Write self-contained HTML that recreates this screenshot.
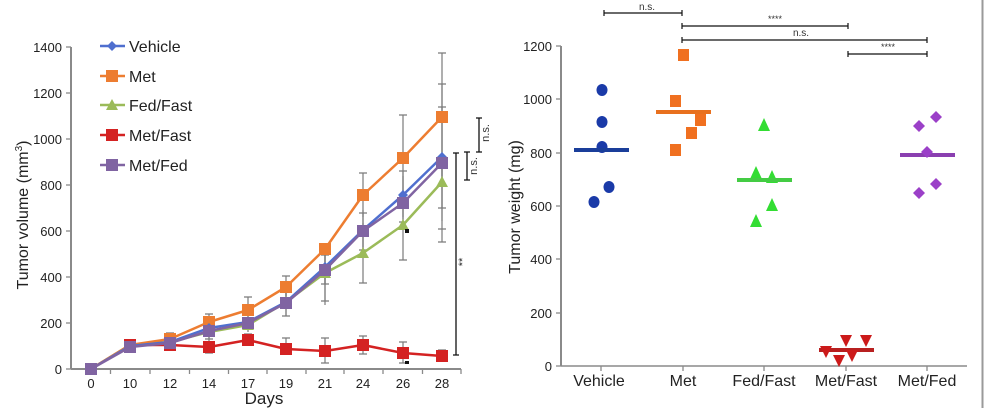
<!DOCTYPE html>
<html><head><meta charset="utf-8"><style>
html,body{margin:0;padding:0;background:#fff;}
svg{display:block;font-family:"Liberation Sans",Arial,sans-serif;}
</style></head><body>
<svg width="984" height="408" viewBox="0 0 984 408" xmlns="http://www.w3.org/2000/svg">
<rect width="984" height="408" fill="#fff"/>
<line x1="982.5" y1="0" x2="982.5" y2="408" stroke="#9a9a9a" stroke-width="2"/>

<!-- LEFT CHART axes -->
<g stroke="#8a8a8a" stroke-width="2" fill="none">
<line x1="71" y1="47" x2="71" y2="369"/>
<line x1="71" y1="369" x2="461" y2="369"/>
</g>
<g stroke="#8a8a8a" stroke-width="1.3">
<line x1="66" y1="47" x2="71" y2="47"/><line x1="66" y1="93" x2="71" y2="93"/><line x1="66" y1="139" x2="71" y2="139"/><line x1="66" y1="185" x2="71" y2="185"/><line x1="66" y1="231" x2="71" y2="231"/><line x1="66" y1="277" x2="71" y2="277"/><line x1="66" y1="323" x2="71" y2="323"/><line x1="66" y1="369" x2="71" y2="369"/>
<line x1="110.5" y1="369" x2="110.5" y2="374"/><line x1="150" y1="369" x2="150" y2="374"/><line x1="189.5" y1="369" x2="189.5" y2="374"/><line x1="228.5" y1="369" x2="228.5" y2="374"/><line x1="267" y1="369" x2="267" y2="374"/><line x1="306" y1="369" x2="306" y2="374"/><line x1="344" y1="369" x2="344" y2="374"/><line x1="383" y1="369" x2="383" y2="374"/><line x1="422.5" y1="369" x2="422.5" y2="374"/><line x1="461" y1="369" x2="461" y2="374"/>
</g>
<g font-size="13" fill="#222" text-anchor="end">
<text x="62" y="52">1400</text><text x="62" y="98">1200</text><text x="62" y="144">1000</text><text x="62" y="190">800</text><text x="62" y="236">600</text><text x="62" y="282">400</text><text x="62" y="328">200</text><text x="62" y="374">0</text>
</g>
<g font-size="13" fill="#222" text-anchor="middle">
<text x="91" y="388">0</text><text x="130" y="388">10</text><text x="170" y="388">12</text><text x="209" y="388">14</text><text x="248" y="388">17</text><text x="286" y="388">19</text><text x="325" y="388">21</text><text x="363" y="388">24</text><text x="403" y="388">26</text><text x="442" y="388">28</text>
</g>
<text x="264" y="404" font-size="17" fill="#222" text-anchor="middle">Days</text>
<text transform="translate(28,215) rotate(-90)" font-size="16" fill="#222" text-anchor="middle">Tumor volume (mm<tspan font-size="10" dy="-6">3</tspan><tspan dy="6">)</tspan></text>

<!-- error bars -->
<g stroke="#7a7a7a" stroke-width="1.2" fill="none">
<!-- Met -->
<path d="M130 342v7M126 342h8M170 333v12M166 333h8M209 314v16M205 314h8M248 297v25M244 297h8M286 276v23M282 276h8M325 255v50M321 255h8M363 173v44M359 173h8M403 115v78M399 115h8M442 53v126M438 53h8"/>
<!-- Vehicle -->
<path d="M170 336v7M209 324v14M205 324h8M248 313v16M244 313h8M286 288v28M282 288h8M325 247v37M321 247h8M363 213v36M359 213h8M403 171v46M399 171h8M442 107v101M438 107h8M438 208h8"/>
<!-- Fed/Fast -->
<path d="M209 325v14M248 318v14M286 290v18M282 308h8M325 246v55M321 301h8M363 223v60M359 283h8M403 190v70M399 260h8M442 165v77M438 242h8"/>
<!-- Met/Fed -->
<path d="M286 288v28M282 316h8M325 252v32M321 284h8M363 210v40M359 250h8M403 176v46M399 222h8M442 84v137M438 84h8M438 229h8"/>
<!-- Met/Fast -->
<path d="M130 339v7M170 341v8M166 341h8M209 339v14M205 339h8M205 353h8M248 334v12M244 334h8M286 338v16M282 338h8M282 354h8M325 338v25M321 338h8M321 363h8M363 336v18M359 336h8M359 354h8M403 342v21M399 342h8M399 363h8M442 350v12M438 350h8"/>
</g>

<!-- series lines -->
<g fill="none" stroke-width="2.5" stroke-linejoin="round">
<polyline stroke="#d42222" points="91,369 130,345 170,345 209,347 248,340 286,349 325,351 363,345 403,353 442,356"/>
<polyline stroke="#9bbb59" points="91,369 130,345 170,342 209,332 248,325 286,302 325,273 363,253 403,225 442,182"/>
<polyline stroke="#ed7d31" points="91,369 130,345 170,339 209,322 248,310 286,287 325,249 363,195 403,158 442,117"/>
<polyline stroke="#4f6fcf" points="91,369 130,346 170,342 209,328 248,322 286,302 325,267 363,230 403,195 442,157"/>
<polyline stroke="#8064a2" points="91,369 130,347 170,343 209,331 248,323 286,303 325,270 363,231 403,203 442,163"/>
</g>
<!-- markers -->
<g fill="#d42222">
<rect x="124" y="339" width="12" height="12"/><rect x="164" y="339" width="12" height="12"/><rect x="203" y="341" width="12" height="12"/><rect x="242" y="334" width="12" height="12"/><rect x="280" y="343" width="12" height="12"/><rect x="319" y="345" width="12" height="12"/><rect x="357" y="339" width="12" height="12"/><rect x="397" y="347" width="12" height="12"/><rect x="436" y="350" width="12" height="12"/>
</g>
<g fill="#9bbb59">
<polygon points="209,326 215,337 203,337"/><polygon points="248,319 254,330 242,330"/><polygon points="286,296 292,307 280,307"/><polygon points="325,267 331,278 319,278"/><polygon points="363,247 369,258 357,258"/><polygon points="403,219 409,230 397,230"/><polygon points="442,176 448,187 436,187"/>
</g>
<g fill="#ed7d31">
<rect x="164" y="333" width="12" height="12"/><rect x="203" y="316" width="12" height="12"/><rect x="242" y="304" width="12" height="12"/><rect x="280" y="281" width="12" height="12"/><rect x="319" y="243" width="12" height="12"/><rect x="357" y="189" width="12" height="12"/><rect x="397" y="152" width="12" height="12"/><rect x="436" y="111" width="12" height="12"/>
</g>
<g fill="#4f6fcf">
<polygon points="209,323 214,328 209,333 204,328"/><polygon points="248,317 253,322 248,327 243,322"/><polygon points="325,262 330,267 325,272 320,267"/><polygon points="403,190 408,195 403,200 398,195"/><polygon points="442,152 447,157 442,162 437,157"/>
</g>
<g fill="#8064a2">
<rect x="85" y="363" width="12" height="12"/><rect x="124" y="341" width="12" height="12"/><rect x="164" y="337" width="12" height="12"/><rect x="203" y="325" width="12" height="12"/><rect x="242" y="317" width="12" height="12"/><rect x="280" y="297" width="12" height="12"/><rect x="319" y="264" width="12" height="12"/><rect x="357" y="225" width="12" height="12"/><rect x="397" y="197" width="12" height="12"/><rect x="436" y="157" width="12" height="12"/>
</g>
<rect x="405" y="229" width="4" height="4" fill="#111"/>
<rect x="405" y="361" width="4" height="3" fill="#111"/>

<!-- left brackets -->
<g stroke="#111" stroke-width="1.3" fill="none">
<path d="M479 118v34M476 118h6M476 152h6"/>
<path d="M467 152v28M464 152h6M464 180h6"/>
<path d="M456 153v202M453 153h6M453 355h6"/>
</g>
<g font-size="11" fill="#333" text-anchor="middle">
<text transform="translate(489,133) rotate(-90)">n.s.</text>
<text transform="translate(477,166) rotate(-90)">n.s.</text>
<text transform="translate(466,262) rotate(-90)">**</text>
</g>

<!-- legend -->
<g stroke-width="2.5">
<line x1="100" y1="46" x2="125" y2="46" stroke="#4f6fcf"/>
<line x1="100" y1="76" x2="125" y2="76" stroke="#ed7d31"/>
<line x1="100" y1="105" x2="125" y2="105" stroke="#9bbb59"/>
<line x1="100" y1="135" x2="125" y2="135" stroke="#d42222"/>
<line x1="100" y1="165" x2="125" y2="165" stroke="#8064a2"/>
</g>
<polygon points="112,41 117,46 112,51 107,46" fill="#4f6fcf"/>
<rect x="106" y="70" width="12" height="12" fill="#ed7d31"/>
<polygon points="112,99 118,110 106,110" fill="#9bbb59"/>
<rect x="106" y="129" width="12" height="12" fill="#d42222"/>
<rect x="106" y="159" width="12" height="12" fill="#8064a2"/>
<g font-size="16" fill="#222">
<text x="129" y="52">Vehicle</text>
<text x="129" y="82">Met</text>
<text x="129" y="111">Fed/Fast</text>
<text x="129" y="141">Met/Fast</text>
<text x="129" y="171">Met/Fed</text>
</g>

<!-- RIGHT CHART -->
<g stroke="#8a8a8a" fill="none">
<line x1="561" y1="46" x2="561" y2="366" stroke-width="2"/>
<line x1="561" y1="366" x2="967" y2="366" stroke-width="1.5"/>
</g>
<g stroke="#8a8a8a" stroke-width="1.3">
<line x1="556" y1="46" x2="561" y2="46"/><line x1="556" y1="99" x2="561" y2="99"/><line x1="556" y1="153" x2="561" y2="153"/><line x1="556" y1="206" x2="561" y2="206"/><line x1="556" y1="259" x2="561" y2="259"/><line x1="556" y1="313" x2="561" y2="313"/><line x1="556" y1="366" x2="561" y2="366"/>
<line x1="601" y1="366" x2="601" y2="371"/><line x1="683" y1="366" x2="683" y2="371"/><line x1="764" y1="366" x2="764" y2="371"/><line x1="846" y1="366" x2="846" y2="371"/><line x1="927" y1="366" x2="927" y2="371"/>
</g>
<g font-size="13" fill="#222" text-anchor="end">
<text x="552" y="51">1200</text><text x="552" y="104">1000</text><text x="552" y="158">800</text><text x="552" y="211">600</text><text x="552" y="264">400</text><text x="552" y="318">200</text><text x="552" y="371">0</text>
</g>
<g font-size="16" fill="#222" text-anchor="middle">
<text x="599" y="386">Vehicle</text><text x="683" y="386">Met</text><text x="764" y="386">Fed/Fast</text><text x="846" y="386">Met/Fast</text><text x="927" y="386">Met/Fed</text>
</g>
<text transform="translate(520,207) rotate(-90)" font-size="16" fill="#222" text-anchor="middle">Tumor weight (mg)</text>

<!-- Vehicle dots -->
<g fill="#1a3aa8">
<ellipse cx="602" cy="90" rx="5.5" ry="6"/><ellipse cx="602" cy="122" rx="5.5" ry="6"/><ellipse cx="602" cy="147" rx="5.5" ry="6"/><ellipse cx="609" cy="187" rx="5.5" ry="6"/><ellipse cx="594" cy="202" rx="5.5" ry="6"/>
</g>
<line x1="574" y1="150" x2="629" y2="150" stroke="#1a3e9a" stroke-width="4"/>
<!-- Met squares -->
<g fill="#f07020">
<rect x="678" y="49" width="11" height="12"/><rect x="670" y="95" width="11" height="12"/><rect x="695" y="114" width="11" height="12"/><rect x="686" y="127" width="11" height="12"/><rect x="670" y="144" width="11" height="12"/>
</g>
<line x1="656" y1="112" x2="711" y2="112" stroke="#e8701e" stroke-width="4"/>
<!-- Fed/Fast triangles -->
<g fill="#33dd33">
<polygon points="764,118 770,131 758,131"/><polygon points="756,166 762,179 750,179"/><polygon points="772,170 778,183 766,183"/><polygon points="772,198 778,211 766,211"/><polygon points="756,214 762,227 750,227"/>
</g>
<line x1="737" y1="180" x2="792" y2="180" stroke="#44cc44" stroke-width="4"/>
<!-- Met/Fast inverted triangles -->
<line x1="819" y1="350" x2="874" y2="350" stroke="#b82020" stroke-width="4"/>
<g fill="#cc1a1a">
<polygon points="820,346 832,346 826,358"/><polygon points="840,335 852,335 846,347"/><polygon points="860,335 872,335 866,347"/><polygon points="833,355 845,355 839,367"/><polygon points="846,350 858,350 852,362"/>
</g>
<!-- Met/Fed diamonds -->
<line x1="900" y1="155" x2="955" y2="155" stroke="#8a3fb0" stroke-width="4"/>
<g fill="#9b40c8">
<polygon points="919,120 925,126 919,132 913,126"/><polygon points="936,111 942,117 936,123 930,117"/><polygon points="927,146 933,152 927,158 921,152"/><polygon points="919,187 925,193 919,199 913,193"/><polygon points="936,178 942,184 936,190 930,184"/>
</g>

<!-- right brackets -->
<g stroke="#111" stroke-width="1.2" fill="none">
<path d="M604 13h78M604 10v6M682 10v6"/>
<path d="M682 26h166M682 23v6M848 23v6"/>
<path d="M682 40h245M682 37v6M927 37v6"/>
<path d="M848 54h79M848 51v6M927 51v6"/>
</g>
<g fill="#333" text-anchor="middle">
<text x="647" y="10" font-size="10">n.s.</text>
<text x="775" y="22" font-size="9">****</text>
<text x="801" y="36" font-size="10">n.s.</text>
<text x="888" y="50" font-size="9">****</text>
</g>
</svg>
</body></html>
